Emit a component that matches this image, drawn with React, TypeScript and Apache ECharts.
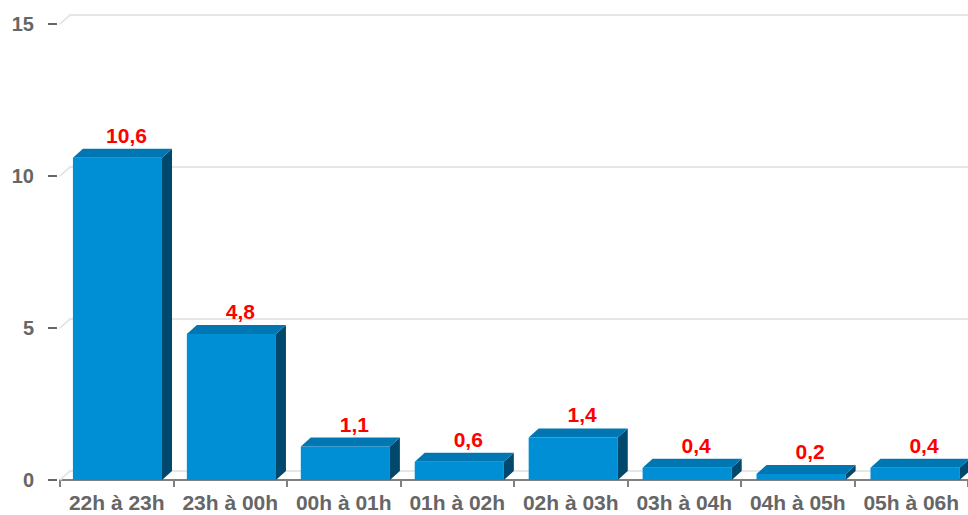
import React, { useEffect, useRef } from "react";
import * as echarts from "echarts";

const categories = ["22h à 23h", "23h à 00h", "00h à 01h", "01h à 02h", "02h à 03h", "03h à 04h", "04h à 05h", "05h à 06h"];
const values = [10.6, 4.8, 1.1, 0.6, 1.4, 0.4, 0.2, 0.4];
const yTicks = [0, 5, 10, 15];

const FONT = "'Liberation Sans', Arial, Helvetica, sans-serif";
const DX = 10;
const DY = 9;

export default function App() {
  const ref = useRef<HTMLDivElement>(null);
  useEffect(() => {
    if (!ref.current) return;
    const chart = echarts.init(ref.current, undefined, { renderer: "svg" });
    const option: any = {
      animation: false,
      backgroundColor: "#ffffff",
      grid: { left: 60, right: 0, top: 24, bottom: 35, containLabel: false },
      xAxis: {
        type: "category",
        data: categories,
        boundaryGap: true,
        axisLine: { show: true, lineStyle: { color: "#808080", width: 2 } },
        axisTick: { show: true, length: 7, alignWithLabel: false, lineStyle: { color: "#808080", width: 2 } },
        axisLabel: { interval: 0, color: "#666666", fontWeight: "bold", fontSize: 21, fontFamily: FONT, margin: 12 },
        splitLine: { show: false },
      },
      yAxis: {
        type: "value",
        min: 0,
        max: 15,
        interval: 5,
        offset: 3,
        axisLine: { show: false },
        axisTick: { show: true, length: 9, lineStyle: { color: "#666666", width: 2 } },
        axisLabel: { color: "#666666", fontWeight: "bold", fontSize: 20, fontFamily: FONT, margin: 23 },
        splitLine: { show: false },
      },
      series: [
        {
          type: "custom",
          z: 1,
          silent: true,
          data: yTicks.map((v) => [0, v]),
          renderItem: (params: any, api: any) => {
            const cs = params.coordSys;
            const v = api.value(1);
            const y = api.coord([0, v])[1];
            return {
              type: "polyline",
              shape: {
                points: [
                  [cs.x, y],
                  [cs.x + DX, y - DY],
                  [cs.x + cs.width, y - DY],
                ],
              },
              style: { stroke: "#e6e6e6", lineWidth: 2, fill: null },
            };
          },
        },
        {
          type: "custom",
          z: 5,
          data: values.map((v, i) => [i, v]),
          renderItem: (params: any, api: any) => {
            const i = api.value(0);
            const v = api.value(1);
            const top = api.coord([i, v]);
            const base = api.coord([i, 0]);
            const band = api.size([1, 0])[0];
            const w = band * 0.785;
            const cs = params.coordSys;
            const shift = 0.5 + ((top[0] - cs.x) / cs.width) * 3.5;
            const x1 = top[0] - w / 2 + shift;
            const x2 = x1 + w;
            const yt = top[1];
            const yb = base[1];
            const label = String(v).replace(".", ",");
            return {
              type: "group",
              children: [
                {
                  type: "rect",
                  shape: { x: x1, y: yt, width: w, height: yb - yt },
                  style: { fill: "#008fd5" },
                },
                {
                  type: "polygon",
                  shape: { points: [[x2, yt], [x2 + DX, yt - DY], [x2 + DX, yb - DY], [x2, yb]] },
                  style: { fill: "#00496d" },
                },
                {
                  type: "polygon",
                  shape: { points: [[x1, yt], [x1 + DX, yt - DY], [x2 + DX, yt - DY], [x2, yt]] },
                  style: { fill: "#0077b3" },
                },
                {
                  type: "text",
                  style: {
                    text: label,
                    x: (x1 + x2) / 2 + 9,
                    y: yt - DY - 3,
                    align: "center",
                    verticalAlign: "bottom",
                    fill: "#ff0000",
                    font: "bold 21px " + FONT,
                  },
                },
              ],
            };
          },
        },
      ],
    };
    chart.setOption(option);
    return () => chart.dispose();
  }, []);
  return (
    <div
      ref={ref}
      style={{ position: "absolute", left: 0, top: 0, width: 968, height: 515 }}
    />
  );
}
